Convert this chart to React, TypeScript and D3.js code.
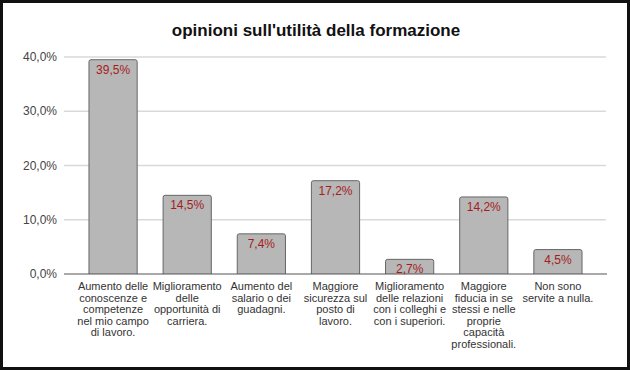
import { useRef, useEffect } from "react";
import * as d3 from "d3";

const title = "opinioni sull'utilità della formazione";

const categories = [
  ["Aumento delle", "conoscenze e", "competenze", "nel mio campo", "di lavoro."],
  ["Miglioramento", "delle", "opportunità di", "carriera."],
  ["Aumento del", "salario o dei", "guadagni."],
  ["Maggiore", "sicurezza sul", "posto di", "lavoro."],
  ["Miglioramento", "delle relazioni", "con i colleghi e", "con i superiori."],
  ["Maggiore", "fiducia in se", "stessi e nelle", "proprie", "capacità", "professionali."],
  ["Non sono", "servite a nulla."],
];

const values = [39.5, 14.5, 7.4, 17.2, 2.7, 14.2, 4.5];

const yTicks = [0, 10, 20, 30, 40];

const W = 630;
const H = 370;

const fmt = (v: number, d: number) => v.toFixed(d).replace(".", ",") + "%";

const App = () => {
  const ref = useRef<SVGSVGElement | null>(null);

  useEffect(() => {
    if (!ref.current) return;
    const svg = d3.select(ref.current);
    svg.selectAll("*").remove();

    const font = "'Liberation Sans', Arial, sans-serif";

    svg.append("rect")
      .attr("x", 0).attr("y", 0).attr("width", W).attr("height", H)
      .attr("fill", "#fff");

    const x = d3.scaleBand<number>()
      .domain(d3.range(categories.length))
      .range([76, 595])
      .paddingInner(0.35)
      .paddingOuter(0.175);

    const y = d3.scaleLinear([0, 40], [274, 57]);

    const g = svg.append("g");

    // gridlines
    g.selectAll("line.grid")
      .data(yTicks.filter((t) => t > 0))
      .join("line")
      .attr("class", "grid")
      .attr("x1", 64).attr("x2", 606)
      .attr("y1", (d) => y(d)).attr("y2", (d) => y(d))
      .attr("stroke", "#d9d9d9")
      .attr("stroke-width", 1.3);

    // y tick labels
    g.selectAll("text.ytick")
      .data(yTicks)
      .join("text")
      .attr("class", "ytick")
      .attr("x", 57)
      .attr("y", (d) => y(d) + 4)
      .attr("text-anchor", "end")
      .attr("font-family", font)
      .attr("font-size", 12)
      .attr("fill", "#444")
      .text((d) => fmt(d, 1));

    // bars with rounded top
    const r = 2;
    g.selectAll("path.bar")
      .data(values)
      .join("path")
      .attr("class", "bar")
      .attr("d", (d, i) => {
        const x0 = x(i)!;
        const x1 = x0 + x.bandwidth();
        const yt = y(d);
        const yb = y(0);
        return `M${x0},${yb}V${yt + r}Q${x0},${yt} ${x0 + r},${yt}H${x1 - r}Q${x1},${yt} ${x1},${yt + r}V${yb}`;
      })
      .attr("fill", "#b7b7b7")
      .attr("stroke", "#666")
      .attr("stroke-width", 1);

    // baseline
    g.append("line")
      .attr("x1", 64).attr("x2", 607)
      .attr("y1", y(0)).attr("y2", y(0))
      .attr("stroke", "#555")
      .attr("stroke-width", 1.2);

    // value labels
    g.selectAll("text.val")
      .data(values)
      .join("text")
      .attr("class", "val")
      .attr("x", (_, i) => x(i)! + x.bandwidth() / 2)
      .attr("y", (d) => y(d) + 14)
      .attr("text-anchor", "middle")
      .attr("font-family", font)
      .attr("font-size", 12)
      .attr("fill", "#a61c1c")
      .text((d) => fmt(d, 1));

    // category labels
    const cat = g.selectAll("text.cat")
      .data(categories)
      .join("text")
      .attr("class", "cat")
      .attr("text-anchor", "middle")
      .attr("font-family", font)
      .attr("font-size", 11)
      .attr("fill", "#333");
    cat.each(function (lines, i) {
      d3.select(this)
        .selectAll("tspan")
        .data(lines)
        .join("tspan")
        .attr("x", x(i)! + x.bandwidth() / 2)
        .attr("y", (_, j) => 290 + j * 11.6)
        .text((t) => t);
    });

    // title
    svg.append("text")
      .attr("x", 316)
      .attr("y", 36)
      .attr("text-anchor", "middle")
      .attr("font-family", font)
      .attr("font-size", 17)
      .attr("font-weight", "bold")
      .attr("fill", "#111")
      .text(title);

    // outer border
    svg.append("rect")
      .attr("x", 1.5).attr("y", 1.5)
      .attr("width", W - 3).attr("height", H - 3)
      .attr("fill", "none")
      .attr("stroke", "#111")
      .attr("stroke-width", 3);
  }, []);

  return (
    <svg
      ref={ref}
      width={W}
      height={H}
      style={{ position: "absolute", left: 0, top: 0 }}
    />
  );
};

export default App;
